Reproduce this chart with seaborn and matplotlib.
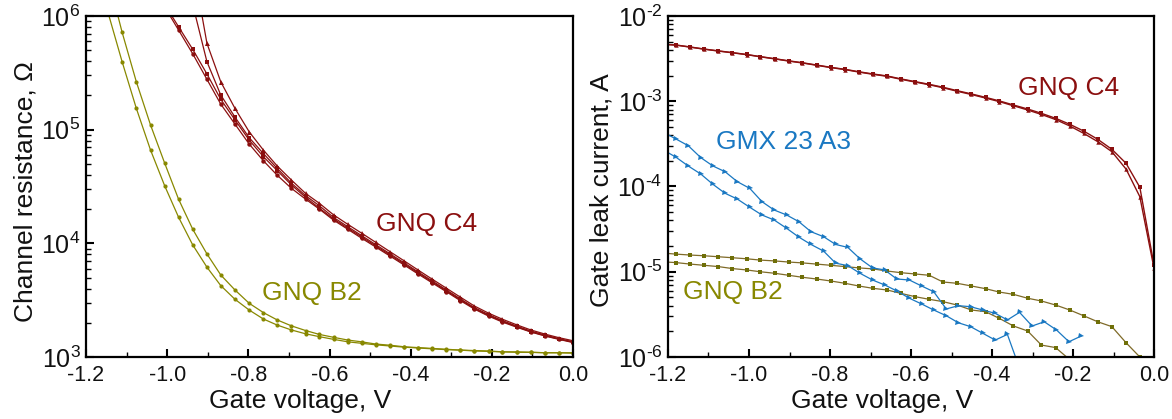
import numpy as np
import matplotlib
matplotlib.use("Agg")
import matplotlib.pyplot as plt
import seaborn as sns
from matplotlib.ticker import MultipleLocator, LogLocator, NullFormatter, FuncFormatter

sns.set_theme(style="ticks")
plt.rcParams["font.family"] = ["Liberation Sans", "DejaVu Sans"]
plt.rcParams.update({
    "mathtext.fontset": "custom",
    "mathtext.rm": "Liberation Sans",
    "mathtext.it": "Liberation Sans:italic",
    "mathtext.bf": "Liberation Sans:bold",
    "axes.unicode_minus": False,
})

nan = np.nan

# ---- gate-voltage sweeps (V) ----
vg_channel = [-1.180, -1.145, -1.111, -1.076, -1.041, -1.006, -0.972, -0.937, -0.902,
              -0.868, -0.833, -0.798, -0.763, -0.729, -0.694, -0.659, -0.625, -0.590,
              -0.555, -0.521, -0.486, -0.451, -0.416, -0.382, -0.347, -0.312, -0.278,
              -0.243, -0.208, -0.174, -0.139, -0.104, -0.069, -0.035, 0.000]
vg_leak = [-1.215] + vg_channel
vg_gmx = [-1.210, -1.180, -1.150, -1.119, -1.089, -1.059, -1.029, -0.998, -0.968,
          -0.938, -0.907, -0.877, -0.847, -0.816, -0.786, -0.756, -0.726, -0.695,
          -0.665, -0.635, -0.604, -0.574, -0.544, -0.513, -0.483, -0.453, -0.423,
          -0.392, -0.362, -0.332, -0.301, -0.271, -0.241, -0.210, -0.180]

# ---- channel resistance (Ohm) ----
r_c4_a = [nan] * 5 + [1.26e6, 8.05e5, 5.09e5, 3.09e5, 1.85e5, 1.22e5, 8.11e4, 5.79e4, 4.37e4,
                      3.27e4, 2.54e4, 2.04e4, 1.64e4, 1.36e4, 1.14e4, 9.48e3, 7.91e3, 6.58e3,
                      5.50e3, 4.58e3, 3.82e3, 3.20e3, 2.68e3, 2.32e3, 2.06e3, 1.85e3, 1.67e3,
                      1.54e3, 1.44e3, 1.35e3]
r_c4_b = [nan] * 5 + [1.20e6, 7.53e5, 4.65e5, 2.77e5, 1.68e5, 1.12e5, 7.48e4, 5.33e4, 3.98e4,
                      3.05e4, 2.45e4, 2.00e4, 1.60e4, 1.33e4, 1.11e4, 9.27e3, 7.73e3, 6.44e3,
                      5.38e3, 4.49e3, 3.75e3, 3.14e3, 2.64e3, 2.29e3, 2.03e3, 1.83e3, 1.66e3,
                      1.53e3, 1.43e3, 1.34e3]
r_c4_c = [nan] * 7 + [1.26e6, 3.96e5, 2.02e5, 1.29e5, 8.51e4, 6.17e4, 4.57e4, 3.39e4, 2.63e4,
                      2.14e4, 1.69e4, 1.40e4, 1.17e4, 9.73e3, 8.09e3, 6.73e3, 5.61e3, 4.67e3,
                      3.89e3, 3.25e3, 2.72e3, 2.36e3, 2.09e3, 1.87e3, 1.69e3, 1.56e3, 1.45e3,
                      1.36e3]
r_c4_d = [nan] * 7 + [2.88e6, 5.75e5, 2.64e5, 1.54e5, 9.59e4, 6.62e4, 4.80e4, 3.61e4, 2.75e4,
                      2.25e4, 1.78e4, 1.47e4, 1.23e4, 1.02e4, 8.45e3, 7.01e3, 5.83e3, 4.84e3,
                      4.03e3, 3.37e3, 2.81e3, 2.43e3, 2.15e3, 1.92e3, 1.73e3, 1.59e3, 1.48e3,
                      1.39e3]
r_b2_lo = [nan, 1.05e6, 3.96e5, 1.54e5, 6.62e4, 3.20e4, 1.70e4, 9.68e3, 6.17e3, 4.25e3, 3.22e3,
           2.59e3, 2.16e3, 1.91e3, 1.73e3, 1.60e3, 1.51e3, 1.43e3, 1.36e3, 1.32e3, 1.28e3,
           1.25e3, 1.22e3, 1.20e3, 1.18e3, 1.16e3, 1.15e3, 1.13e3, 1.12e3, 1.11e3, 1.10e3,
           1.10e3, 1.09e3, 1.09e3, 1.08e3]
r_b2_hi = [nan, 2.14e6, 7.19e5, 2.64e5, 1.10e5, 5.06e4, 2.45e4, 1.33e4, 8.07e3, 5.27e3, 3.89e3,
           2.97e3, 2.46e3, 2.12e3, 1.88e3, 1.71e3, 1.58e3, 1.49e3, 1.41e3, 1.36e3, 1.30e3,
           1.27e3, 1.23e3, 1.21e3, 1.19e3, 1.17e3, 1.15e3, 1.14e3, 1.13e3, 1.11e3, 1.11e3,
           1.10e3, 1.09e3, 1.09e3, 1.09e3]

# ---- gate leak current (A) ----
i_c4_a = [4.68e-3, 4.57e-3, 4.33e-3, 4.10e-3, 3.90e-3, 3.72e-3, 3.54e-3, 3.34e-3, 3.16e-3,
          2.98e-3, 2.83e-3, 2.66e-3, 2.50e-3, 2.37e-3, 2.22e-3, 2.09e-3, 1.98e-3, 1.83e-3,
          1.70e-3, 1.58e-3, 1.46e-3, 1.33e-3, 1.22e-3, 1.11e-3, 1.01e-3, 9.04e-4, 8.11e-4,
          7.22e-4, 6.31e-4, 5.37e-4, 4.48e-4, 3.58e-4, 2.73e-4, 1.87e-4, 9.8e-5, 1.20e-5]
i_c4_b = [4.66e-3, 4.55e-3, 4.31e-3, 4.08e-3, 3.88e-3, 3.70e-3, 3.52e-3, 3.32e-3, 3.14e-3,
          2.96e-3, 2.81e-3, 2.64e-3, 2.48e-3, 2.35e-3, 2.20e-3, 2.07e-3, 1.96e-3, 1.81e-3,
          1.68e-3, 1.56e-3, 1.44e-3, 1.31e-3, 1.20e-3, 1.09e-3, 9.90e-4, 8.85e-4, 7.90e-4,
          7.00e-4, 6.10e-4, 5.13e-4, 4.21e-4, 3.36e-4, 2.56e-4, 1.60e-4, 7.6e-5, 1.10e-5]
i_b2_hi = [1.66e-5, 1.61e-5, 1.57e-5, 1.54e-5, 1.50e-5, 1.46e-5, 1.42e-5, 1.37e-5, 1.34e-5,
           1.30e-5, 1.27e-5, 1.23e-5, 1.19e-5, 1.15e-5, 1.11e-5, 1.08e-5, 1.02e-5, 9.75e-6,
           9.42e-6, 9.09e-6, 7.58e-6, 7.32e-6, 6.81e-6, 6.33e-6, 5.78e-6, 5.43e-6, 4.89e-6,
           4.54e-6, 4.07e-6, 3.56e-6, 3.05e-6, 2.59e-6, 2.27e-6, 1.47e-6, 1.00e-6, 4.5e-7]
i_b2_lo = [1.31e-5, 1.28e-5, 1.23e-5, 1.19e-5, 1.15e-5, 1.09e-5, 1.05e-5, 1.00e-5, 9.60e-6,
           9.09e-6, 8.61e-6, 8.22e-6, 7.79e-6, 7.32e-6, 6.81e-6, 6.39e-6, 6.11e-6, 5.58e-6,
           5.10e-6, 4.75e-6, 4.46e-6, 4.07e-6, 3.56e-6, 3.40e-6, 2.84e-6, 2.31e-6, 2.02e-6,
           1.38e-6, 1.29e-6, 9.3e-7, nan, nan, nan, nan, nan, nan]
i_gmx_hi = [4.30e-4, 3.60e-4, 3.01e-4, 2.18e-4, 1.74e-4, 1.49e-4, 1.14e-4, 9.5e-5, 6.64e-5,
            5.30e-5, 4.63e-5, 3.87e-5, 2.95e-5, 2.58e-5, 2.09e-5, 1.93e-5, 1.42e-5, 1.11e-5,
            1.05e-5, 8.22e-6, 8.0e-6, 6.81e-6, 5.84e-6, 3.66e-6, 4.0e-6, 3.89e-6, 3.56e-6,
            3.25e-6, 2.72e-6, 3.34e-6, 2.31e-6, 2.59e-6, 2.08e-6, 1.51e-6, 1.76e-6]
i_gmx_lo = [2.66e-4, 2.20e-4, 1.74e-4, 1.40e-4, 1.06e-4, 8.32e-5, 7.13e-5, 5.70e-5, 4.63e-5,
            4.05e-5, 3.23e-5, 2.55e-5, 2.09e-5, 1.75e-5, 1.26e-5, 1.18e-5, 9.6e-6, 8.0e-6,
            7.0e-6, 5.95e-6, 4.89e-6, 4.19e-6, 3.56e-6, 3.05e-6, 2.52e-6, 2.27e-6, 1.90e-6,
            1.58e-6, 1.84e-6, 7.4e-7, nan, nan, nan, nan, nan]

x_ticks = [-1.2, -1.0, -0.8, -0.6, -0.4, -0.2, 0.0]

DARK_RED = "#8b0f0f"
OLIVE = "#888800"
OLIVE_DARK = "#6f6f08"
BROWN = "#7f6a28"
BLUE = "#1a78c2"

fig = plt.figure(figsize=(11.72, 4.19), dpi=100)
ax1 = fig.add_axes([86 / 1172, 1 - 357 / 419, 487 / 1172, 341 / 419])
ax2 = fig.add_axes([668 / 1172, 1 - 357 / 419, 486 / 1172, 341 / 419])


def trace(ax, x, y, color, marker, ms, mcolor=None, lw=0.9):
    sns.lineplot(x=x, y=y, ax=ax, color=color, marker=marker, markersize=ms,
                 markeredgewidth=0, markerfacecolor=mcolor or color,
                 linewidth=lw, estimator=None, sort=False, legend=False)


# channel resistance
trace(ax1, vg_channel, r_b2_lo, OLIVE, "o", 3.0)
trace(ax1, vg_channel, r_b2_hi, OLIVE, "o", 3.0)
trace(ax1, vg_channel, r_c4_b, DARK_RED, "o", 3.2)
trace(ax1, vg_channel, r_c4_a, DARK_RED, "s", 3.0)
trace(ax1, vg_channel, r_c4_c, DARK_RED, "s", 3.0)
trace(ax1, vg_channel, r_c4_d, DARK_RED, "^", 3.6)

# gate leakage
trace(ax2, vg_leak, i_b2_hi, BROWN, "s", 3.0, OLIVE_DARK)
trace(ax2, vg_leak, i_b2_lo, BROWN, "s", 3.0, OLIVE_DARK)
trace(ax2, vg_gmx, i_gmx_hi, BLUE, ">", 3.6)
trace(ax2, vg_gmx, i_gmx_lo, BLUE, ">", 3.6)
trace(ax2, vg_leak, i_c4_a, DARK_RED, "s", 3.0, lw=1.0)
trace(ax2, vg_leak, i_c4_b, DARK_RED, "^", 3.2, lw=1.0)


def decade_label(v, pos):
    e = int(round(np.log10(v)))
    if e < 0:
        return r"$\mathregular{10^{\text{-}%d}}$" % (-e)
    return r"$\mathregular{10^{%d}}$" % e


for ax in (ax1, ax2):
    ax.set_yscale("log")
    ax.set_xlim(-1.2, 0.0)
    ax.set_xticks(x_ticks)
    ax.xaxis.set_minor_locator(MultipleLocator(0.1))
    ax.xaxis.set_major_formatter(FuncFormatter(lambda v, p: "0.0" if abs(v) < 1e-9 else f"{v:.1f}"))
    ax.yaxis.set_major_locator(LogLocator(base=10))
    ax.yaxis.set_minor_locator(LogLocator(base=10, subs=np.arange(2, 10)))
    ax.yaxis.set_major_formatter(FuncFormatter(decade_label))
    ax.yaxis.set_minor_formatter(NullFormatter())
    ax.tick_params(which="both", direction="in", top=False, right=False, color="black")
    ax.tick_params(which="major", length=6, width=1.5)
    ax.tick_params(which="minor", length=3.5, width=1.0)
    ax.tick_params(axis="x", labelsize=15.5, pad=6, labelcolor="#111111")
    ax.tick_params(axis="y", labelsize=18, pad=4, labelcolor="#111111")
    for s in ax.spines.values():
        s.set_linewidth(1.6)
        s.set_color("black")
        s.set_visible(True)
    ax.set_xlabel("Gate voltage, V", fontsize=19, color="#111111")
    ax.xaxis.set_label_coords(0.44, -0.095)

ax1.set_ylim(1e3, 1e6)
ax2.set_ylim(1e-6, 1e-2)
ax1.set_ylabel("Channel resistance, Ω", fontsize=19, color="#111111")
ax2.set_ylabel("Gate leak current, A", fontsize=19, color="#111111")
ax1.yaxis.set_label_coords(-0.1, 0.485)
ax2.yaxis.set_label_coords(-0.113, 0.49)

ax1.text(-0.36, 1.48e4, "GNQ C4", color=DARK_RED, fontsize=19, ha="center", va="center")
ax1.text(-0.644, 3.66e3, "GNQ B2", color=OLIVE, fontsize=19, ha="center", va="center")
ax2.text(-0.212, 1.43e-3, "GNQ C4", color=DARK_RED, fontsize=19, ha="center", va="center")
ax2.text(-0.916, 3.33e-4, "GMX 23 A3", color=BLUE, fontsize=19, ha="center", va="center")
ax2.text(-1.04, 5.78e-6, "GNQ B2", color=OLIVE, fontsize=19, ha="center", va="center")

fig.savefig("out.png", dpi=100)
